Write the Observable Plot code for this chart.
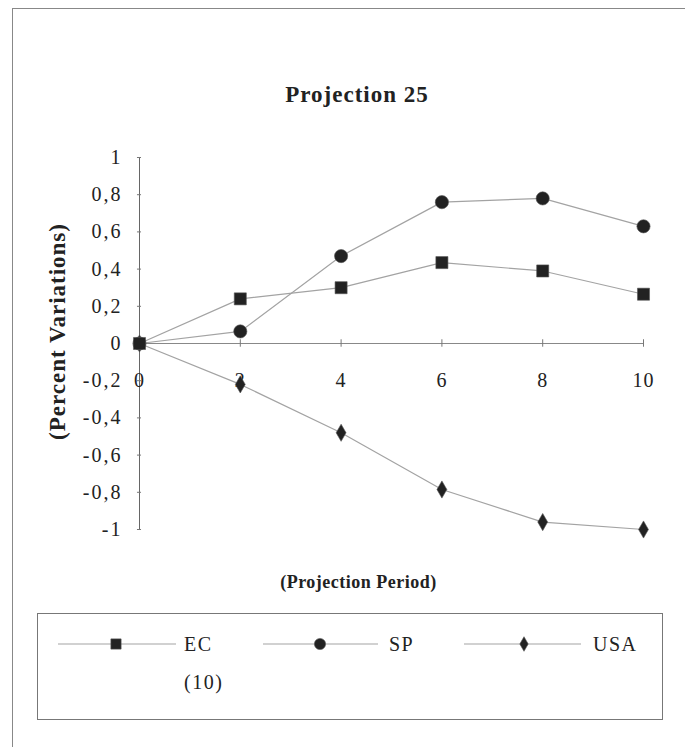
<!DOCTYPE html>
<html>
<head>
<meta charset="utf-8">
<script src="https://cdn.jsdelivr.net/npm/d3@7"></script>
<script src="https://cdn.jsdelivr.net/npm/@observablehq/plot@0.6"></script>
<style>
  body { margin: 0; background: #fff; }
  #page { position: relative; width: 685px; height: 747px; overflow: hidden; background: #fff;
          font-family: "Liberation Serif", "DejaVu Serif", serif; color: #222; }
  #frame { position: absolute; left: 12px; top: 8px; width: 700px; height: 760px;
           border-left: 1px solid #888; border-top: 1px solid #888; }
  #title { position: absolute; left: 0; width: 714px; top: 82px; text-align: center;
           font-weight: bold; font-size: 23px; letter-spacing: 1px; }
  #chart { position: absolute; left: 0; top: 0; }
  #legend { position: absolute; left: 37px; top: 613px; width: 626px; height: 107px;
            border: 1px solid #777; box-sizing: border-box; }
</style>
</head>
<body>
<div id="page">
  <div id="frame"></div>
  <div id="title">Projection 25</div>
  <div id="chart"></div>
  <div id="legend"></div>
</div>
<script>
// Projection periods and percent variations per region
const periods = [0, 2, 4, 6, 8, 10];
const ecValues = [0, 0.24, 0.30, 0.435, 0.39, 0.265];
const spValues = [0, 0.065, 0.47, 0.76, 0.78, 0.63];
const usaValues = [0, -0.22, -0.48, -0.785, -0.96, -1.0];

// Series names (drawing order), legend labels and marker symbols
const seriesNames = ["USA", "SP", "EC"];
const legendLabels = ["EC\n(10)", "SP", "USA"];
const symbols = { EC: "square", SP: "circle", USA: "diamond" };
const symbolRadius = { EC: 6.8, SP: 6.6, USA: 5.2 };

// Tick values
const yTicks = [-1, -0.8, -0.6, -0.4, -0.2, 0, 0.2, 0.4, 0.6, 0.8, 1];
const xTicks = [0, 2, 4, 6, 8, 10];

const valuesBySeries = { EC: ecValues, SP: spValues, USA: usaValues };
const rows = seriesNames.flatMap(name =>
  periods.map((p, i) => ({ series: name, period: p, value: valuesBySeries[name][i] }))
);

const commaFormat = v => String(+v.toFixed(1)).replace(".", ",");
const serif = "Liberation Serif, serif";
const lineColor = "#a3a3a3";
const markColor = "#222";

const chart = Plot.plot({
  width: 685,
  height: 600,
  marginLeft: 139,
  marginRight: 42,
  marginTop: 157,
  marginBottom: 71,
  x: { domain: [0, 10], axis: null },
  y: { domain: [-1, 1], axis: null },
  style: { fontFamily: serif, background: "transparent", overflow: "visible" },
  marks: [
    // axis lines and tick marks
    Plot.ruleX([0], { y1: -1, y2: 1, stroke: "#666", strokeWidth: 1 }),
    Plot.ruleY([0], { x1: 0, x2: 10, stroke: "#888", strokeWidth: 1 }),
    Plot.ruleX(xTicks, { x: d => d, y1: -0.02, y2: 0.02, stroke: "#777" }),
    Plot.ruleY(yTicks, { y: d => d, x1: -0.04, x2: 0.04, stroke: "#777" }),
    // tick labels
    Plot.text(yTicks, {
      y: d => d, frameAnchor: "left", dx: -17, textAnchor: "end", text: commaFormat,
      fontSize: 20, fontFamily: serif, fill: "#222"
    }),
    Plot.text(xTicks, {
      x: d => d, y: 0, dy: 37, text: d => String(d),
      fontSize: 20, fontFamily: serif, fill: "#222"
    }),
    // axis titles
    Plot.text(["(Percent Variations)"], {
      frameAnchor: "left", textAnchor: "middle", dx: -82, dy: -12, rotate: -90,
      fontSize: 23, fontWeight: "bold", fontFamily: serif, fill: "#222"
    }),
    Plot.text(["(Projection Period)"], {
      frameAnchor: "bottom", dx: -33, dy: 58,
      fontSize: 18, fontWeight: "bold", fontFamily: serif, fill: "#222"
    }),
    // series lines and markers
    Plot.line(rows, { x: "period", y: "value", z: "series", stroke: lineColor, strokeWidth: 1.2 }),
    ...seriesNames.map(name =>
      Plot.dot(rows.filter(d => d.series === name), {
        x: "period", y: "value", symbol: () => symbols[name], r: symbolRadius[name],
        fill: markColor, stroke: "#555", strokeWidth: 0.6
      })
    )
  ]
});
document.getElementById("chart").appendChild(chart);

// Wide letter spacing of the serif labels: y ticks, x ticks, y title, x title
const spacing = ["2px", "1px", "1px", "0.5px"];
d3.select(chart).selectAll("g[aria-label='text']").each(function (_, i) {
  d3.select(this).selectAll("text").style("letter-spacing", spacing[i] || null);
});

// Legend: line with marker, then label
const legendItems = [
  { name: "EC", label: legendLabels[0], x0: 20, x1: 138, mx: 78, tx: 146 },
  { name: "SP", label: legendLabels[1], x0: 225, x1: 340, mx: 282, tx: 351 },
  { name: "USA", label: legendLabels[2], x0: 426, x1: 543, mx: 486, tx: 555 }
];
const legendSvg = d3.select("#legend").append("svg")
  .attr("width", 624).attr("height", 105)
  .style("position", "absolute").style("left", 0).style("top", 0)
  .style("font-family", serif);
const rowY = 30;
for (const it of legendItems) {
  legendSvg.append("line").attr("x1", it.x0).attr("x2", it.x1)
    .attr("y1", rowY).attr("y2", rowY).attr("stroke", lineColor).attr("stroke-width", 1.2);
  const sym = { square: d3.symbolSquare, circle: d3.symbolCircle, diamond: d3.symbolDiamond }[symbols[it.name]];
  legendSvg.append("path")
    .attr("d", d3.symbol(sym, Math.PI * (symbolRadius[it.name] * 0.85) ** 2)())
    .attr("transform", `translate(${it.mx},${rowY})`)
    .attr("fill", markColor).attr("stroke", "#555").attr("stroke-width", 0.6);
  const t = legendSvg.append("text").attr("x", it.tx).attr("y", rowY + 7)
    .attr("font-size", 20).attr("fill", "#222").style("letter-spacing", "1.5px");
  it.label.split("\n").forEach((line, i) => {
    t.append("tspan").attr("x", it.tx).attr("dy", i === 0 ? 0 : 38).text(line);
  });
}
</script>
</body>
</html>
